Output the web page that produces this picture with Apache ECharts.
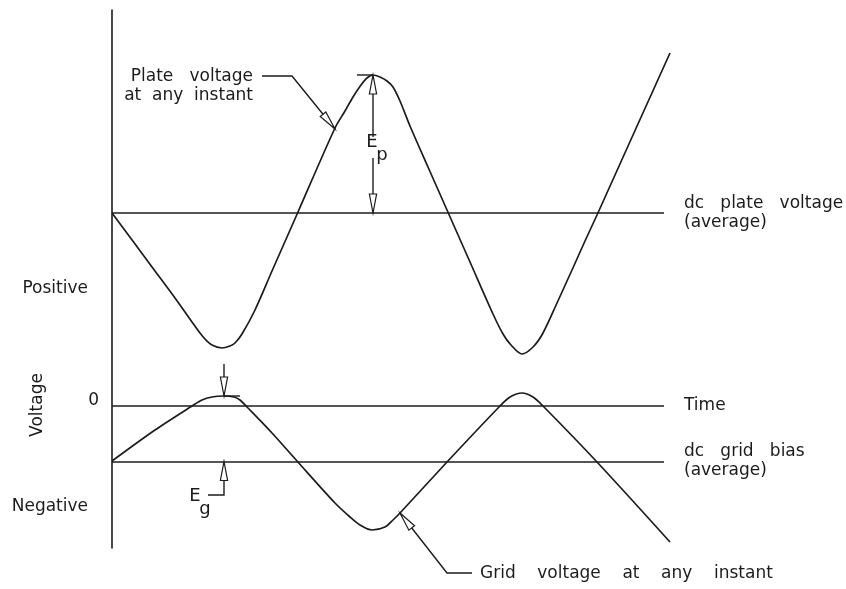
<!DOCTYPE html>
<html>
<head>
<meta charset="UTF-8">
<title>Plate and grid voltage</title>
<script src="https://cdn.jsdelivr.net/npm/echarts@6/dist/echarts.min.js"></script>
<style>
  html, body { margin: 0; padding: 0; background: #fff; }
  #main { width: 846px; height: 589px; }
</style>
</head>
<body>
<div id="main"></div>
<script>
// time (t) and voltage (v) in arbitrary units
const plateWave = [
  [0, 19.3], [4.0, 13.9], [6.3, 10.8], [8.0, 8.4], [8.8, 7.3], [9.3, 6.7], [10.0, 6.1],
  [11.0, 5.8], [11.8, 6.0], [12.3, 6.3], [13.0, 7.2], [14.3, 9.6], [16.0, 13.5],
  [17.5, 16.9], [18.6, 19.4], [22.3, 27.8], [23.3, 29.5], [24.1, 30.9], [24.9, 32.1],
  [25.5, 32.8], [26.1, 33.1], [26.8, 32.9], [27.5, 32.5], [28.1, 31.9], [28.8, 30.5],
  [29.8, 28.0], [31.6, 23.9], [33.5, 19.6], [35.8, 14.4], [38.1, 9.2], [39.1, 7.2],
  [39.9, 6.1], [41.0, 5.2], [42.1, 5.9], [43.1, 7.3], [44.5, 10.3], [46.0, 13.6],
  [47.3, 16.5], [48.5, 19.1], [52.1, 27.1], [55.8, 35.3]
];
const gridWave = [
  [0, -5.5], [4.3, -2.4], [8.0, 0], [9.0, 0.6], [10.0, 0.9], [11.1, 1.0], [12.2, 0.9],
  [12.8, 0.6], [13.5, -0.1], [16.0, -2.7], [18.5, -5.5], [22.3, -9.7], [23.8, -11.1],
  [24.8, -11.9], [26.0, -12.4], [27.3, -12.1], [28.1, -11.4], [28.8, -10.7], [33.5, -5.6],
  [38.8, 0], [39.8, 0.9], [41.0, 1.3], [42.1, 0.9], [43.1, 0], [48.5, -5.6], [55.8, -13.6]
];

// reference lines: level and label
const levelValues = [19.3, 0, -5.55];
const levelNames = ['dc   plate   voltage\n(average)', 'Time', 'dc   grid   bias\n(average)'];
const levelEnd = 55.2;

// y axis labels
const yLabelValues = [11.7, 0.5, -10.1];
const yLabelTexts = ['Positive', '0', 'Negative'];
const yAxisTitle = 'Voltage';

// annotation geometry, in the same units
const annoLines = [
  [[26.1, 33.1], [26.1, 26.9]],
  [[26.1, 24.8], [26.1, 19.3]],
  [[24.5, 33.1], [26.1, 33.1]],
  [[11.2, 4.2], [11.2, 1.0]],
  [[11.2, 1.0], [12.8, 1.0]],
  [[9.6, -8.9], [11.2, -8.9], [11.2, -5.55]],
  [[15.0, 33.0], [18.0, 33.0], [22.3, 27.7]],
  [[36.0, -16.7], [33.5, -16.7], [28.8, -10.7]]
];
const annoArrows = [
  [[26.1, 26.9], [26.1, 33.1]],
  [[26.1, 24.8], [26.1, 19.3]],
  [[11.2, 4.2], [11.2, 1.0]],
  [[11.2, -8.9], [11.2, -5.55]],
  [[18.0, 33.0], [22.3, 27.7]],
  [[33.5, -16.7], [28.8, -10.7]]
];
const annoTexts = [
  { at: [14.1, 31.95], text: 'Plate   voltage\nat  any  instant', align: 'right' },
  { at: [36.8, -16.8], text: 'Grid    voltage    at    any    instant', align: 'left' }
];
const symbolTexts = [
  { at: [26.0, 26.4], main: 'E', sub: 'p' },
  { at: [8.3, -9.0], main: 'E', sub: 'g' }
];

const ink = '#1c1c1c';
const fontFam = '"DejaVu Sans", sans-serif';
const font = '17px ' + fontFam;

const chart = echarts.init(document.getElementById('main'));

function renderAnno(params, api) {
  const children = [];
  annoLines.forEach(function (pts) {
    children.push({
      type: 'polyline',
      shape: { points: pts.map(function (p) { return api.coord(p); }) },
      style: { stroke: ink, lineWidth: 1.4, fill: null }
    });
  });
  annoArrows.forEach(function (a) {
    const p0 = api.coord(a[0]);
    const tip = api.coord(a[1]);
    const dx = tip[0] - p0[0], dy = tip[1] - p0[1];
    const len = Math.sqrt(dx * dx + dy * dy);
    const ux = dx / len, uy = dy / len;
    const L = 19, W = 3.6;
    const bx = tip[0] - ux * L, by = tip[1] - uy * L;
    children.push({
      type: 'polygon',
      shape: { points: [tip, [bx - uy * W, by + ux * W], [bx + uy * W, by - ux * W]] },
      style: { stroke: ink, lineWidth: 1.2, fill: '#fff' }
    });
  });
  annoTexts.forEach(function (t) {
    const p = api.coord(t.at);
    children.push({
      type: 'text', x: p[0], y: p[1],
      style: { text: t.text, font: font, fill: ink, align: t.align, verticalAlign: 'middle', lineHeight: 19 }
    });
  });
  symbolTexts.forEach(function (t) {
    const p = api.coord(t.at);
    children.push({
      type: 'text', x: p[0], y: p[1],
      style: { text: t.main, font: '18px ' + fontFam, fill: ink, align: 'center', verticalAlign: 'middle' }
    });
    children.push({
      type: 'text', x: p[0] + 10, y: p[1] + 13,
      style: { text: t.sub, font: '18px ' + fontFam, fill: ink, align: 'center', verticalAlign: 'middle' }
    });
  });
  return { type: 'group', children: children };
}

const option = {
  animation: false,
  backgroundColor: '#fff',
  grid: { left: 112, right: 134, top: 10, bottom: 41 },
  xAxis: { type: 'value', min: 0, max: 60, show: false },
  yAxis: {
    type: 'value', min: -14.2, max: 39.6,
    splitLine: { show: false },
    axisTick: { show: false },
    axisLine: { show: true, onZero: false, lineStyle: { color: ink, width: 1.6 } },
    axisLabel: {
      customValues: yLabelValues,
      margin: 13,
      color: ink,
      fontSize: 17,
      fontFamily: fontFam,
      formatter: function (val) {
        let best = 0;
        yLabelValues.forEach(function (v, i) {
          if (Math.abs(v - val) < Math.abs(yLabelValues[best] - val)) best = i;
        });
        const s = yLabelTexts[best];
        return s === '0' ? s : '{w|' + s + '}';
      },
      rich: { w: { padding: [0, 11, 0, 0], fontSize: 17, fontFamily: fontFam, color: ink } }
    }
  },
  graphic: [{
    type: 'text', x: 38, y: 405, rotation: Math.PI / 2,
    style: { text: yAxisTitle, font: font, fill: ink, align: 'center', verticalAlign: 'middle' }
  }],
  series: [
    {
      type: 'line', data: plateWave, smooth: 0.3, showSymbol: false, silent: true,
      lineStyle: { color: ink, width: 1.7 },
      markLine: {
        silent: true, symbol: 'none', animation: false,
        lineStyle: { color: ink, width: 1.6, type: 'solid' },
        label: {
          show: true, position: 'end', distance: 20, color: ink,
          fontSize: 17, fontFamily: fontFam, lineHeight: 19, align: 'left'
        },
        data: levelValues.map(function (v, i) {
          const pads = [[10, 0, 0, 0], [0, 0, 24, 0], [0, 0, 5, 0]];
          return [
            { coord: [0, v], label: { formatter: levelNames[i], padding: pads[i] } },
            { coord: [levelEnd, v] }
          ];
        })
      }
    },
    {
      type: 'line', data: gridWave, smooth: 0.3, showSymbol: false, silent: true,
      lineStyle: { color: ink, width: 1.7 }
    },
    {
      type: 'custom', data: [[0, 0]], silent: true, renderItem: renderAnno, z: 5
    }
  ]
};
chart.setOption(option);
</script>
</body>
</html>
